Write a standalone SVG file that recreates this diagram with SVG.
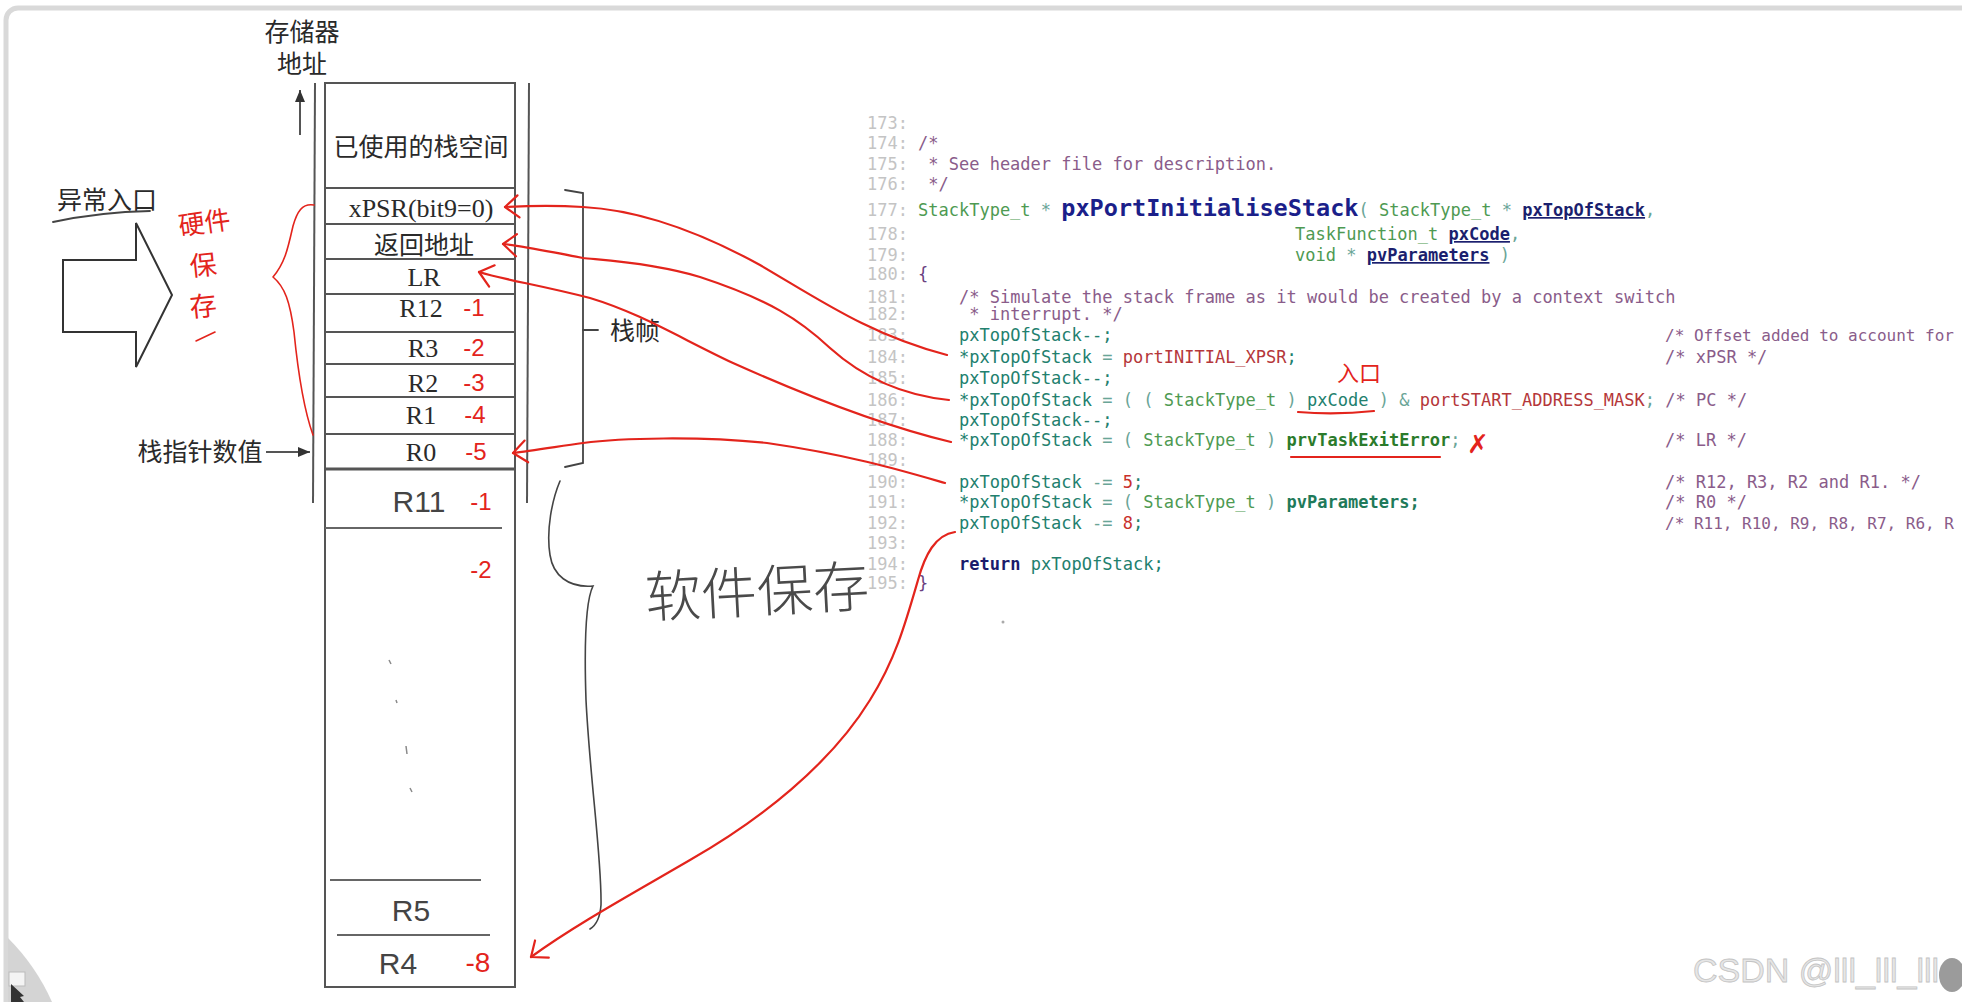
<svg xmlns="http://www.w3.org/2000/svg" width="1962" height="1002" viewBox="0 0 1962 1002">
<style>
.lbl{font-family:"Liberation Serif","Noto Sans CJK SC",serif;font-size:25px;fill:#2a2a2a;text-anchor:middle}
.lat{font-family:"Liberation Serif","Noto Sans CJK SC",serif;font-size:26px;fill:#2a2a2a;text-anchor:middle}
.hw{font-family:"Liberation Sans",sans-serif;font-size:30px;fill:#444;text-anchor:middle}
.rn{font-family:"Liberation Sans",sans-serif;font-size:24px;fill:#e3241c;text-anchor:middle}
.rcj{font-family:"Noto Sans CJK SC",sans-serif;fill:#e3241c;text-anchor:middle}
.box{fill:none;stroke:#555;stroke-width:2}
.ln{stroke:#555;stroke-width:2;fill:none}
.red{fill:none;stroke:#e3241c;stroke-width:2.2;stroke-linecap:round;stroke-linejoin:round}
.blk{fill:none;stroke:#444;stroke-width:1.8;stroke-linecap:round}
.code{font-family:"DejaVu Sans Mono","Liberation Mono",monospace;font-size:17px;white-space:pre}
.edge{font-size:16px}
.num{fill:#c4c4c4}
.cm{fill:#8a5c8a}
.ty{fill:#4e9a52}
.va{fill:#22806e}
.op{fill:#6aa597}
.ct{fill:#b5373a}
.nu{fill:#c8302b}
.fn{fill:#1b1f8a;font-weight:bold;font-size:23.5px}
.pa{fill:#1b1f6e;font-weight:bold;text-decoration:underline}
.kw{fill:#1b1b6b;font-weight:bold}
.br{fill:#6a4080}
.ex{fill:#2b7b2b;font-weight:bold}
.pv{fill:#1f7a5a;font-weight:bold}
</style>
<defs>
<marker id="rh" markerUnits="userSpaceOnUse" markerWidth="30" markerHeight="30" viewBox="-20 -15 25 30" refX="0" refY="0" orient="auto">
<path d="M -14 -11 L 0 0 L -13 11" fill="none" stroke="#e3241c" stroke-width="2.2" stroke-linecap="round" stroke-linejoin="round"/>
</marker>
<marker id="bh" markerUnits="userSpaceOnUse" markerWidth="16" markerHeight="16" viewBox="-12 -8 14 16" refX="0" refY="0" orient="auto">
<path d="M -12 -5 L 0 0 L -12 5 Z" fill="#333"/>
</marker>
</defs>
<rect x="0" y="0" width="1962" height="1002" fill="#ffffff"/>
<rect x="6" y="8" width="2000" height="1060" rx="12" fill="none" stroke="#d9d9d9" stroke-width="5"/>
<path d="M 8 938 Q 36 966 52 1002 L 8 1002 Z" fill="#d4d4d4"/>
<rect x="9" y="972" width="16" height="14" fill="#f4f4f4" stroke="#bbb" stroke-width="1"/>
<path d="M 11 984 L 24 996 L 20 997 L 24 1002 L 11 1002 Z" fill="#333"/>

<g id="axis">
<text class="lbl" x="302" y="41">存储器</text>
<text class="lbl" x="302" y="73">地址</text>
<line x1="300" y1="135" x2="300" y2="90" class="ln" marker-end="url(#bh)"/>
<line x1="315" y1="83" x2="313" y2="503" class="ln"/>
<line x1="529" y1="83" x2="527" y2="503" class="ln"/>
</g>

<g id="stack">
<rect x="325" y="83" width="190" height="904" class="box"/>
<line x1="325" y1="188" x2="515" y2="188" class="ln"/>
<line x1="325" y1="224" x2="515" y2="224" class="ln"/>
<line x1="325" y1="259" x2="515" y2="259" class="ln"/>
<line x1="325" y1="294" x2="515" y2="294" class="ln"/>
<line x1="325" y1="332" x2="515" y2="332" class="ln"/>
<line x1="325" y1="364" x2="515" y2="364" class="ln"/>
<line x1="325" y1="397" x2="515" y2="397" class="ln"/>
<line x1="325" y1="434" x2="515" y2="434" class="ln"/>
<line x1="325" y1="469" x2="515" y2="469" stroke="#555" stroke-width="3"/>
<line x1="325" y1="528" x2="502" y2="528" stroke="#666" stroke-width="1.8"/>
<line x1="330" y1="880" x2="481" y2="880" stroke="#666" stroke-width="1.8"/>
<line x1="337" y1="935" x2="490" y2="935" stroke="#666" stroke-width="1.8"/>
<text class="lbl" x="421" y="156">已使用的栈空间</text>
<text class="lat" x="421" y="217">xPSR(bit9=0)</text>
<text class="lbl" x="424" y="254">返回地址</text>
<text class="lat" x="424" y="286">LR</text>
<text class="lat" x="421" y="317">R12</text>
<text class="lat" x="423" y="357">R3</text>
<text class="lat" x="423" y="392">R2</text>
<text class="lat" x="421" y="424">R1</text>
<text class="lat" x="421" y="461">R0</text>
<text class="rn" x="474" y="316">-1</text>
<text class="rn" x="474" y="356">-2</text>
<text class="rn" x="474" y="391">-3</text>
<text class="rn" x="475" y="423">-4</text>
<text class="rn" x="476" y="460">-5</text>
<text class="hw" x="419" y="512">R11</text>
<text class="rn" x="481" y="510">-1</text>
<text class="rn" x="481" y="578">-2</text>
<text class="hw" x="411" y="921">R5</text>
<text class="hw" x="398" y="974">R4</text>
<text class="rn" x="478" y="972" style="font-size:28px">-8</text>
<path d="M 389 660 L 391 664 M 396 700 L 397 703 M 406 746 L 407 754 M 410 788 L 412 792" stroke="#8a8a8a" stroke-width="1.5" fill="none"/>
</g>

<g id="exception">
<text class="lbl" x="107" y="209">异常入口</text>
<path d="M 53 222 Q 100 212 150 211" class="blk"/>
<polygon points="63,260 136,260 136,223 172,295 136,367 136,332 63,332" fill="#fff" stroke="#333" stroke-width="2"/>
</g>

<g id="sp">
<text class="lbl" x="200" y="461">栈指针数值</text>
<line x1="266" y1="452" x2="310" y2="452" class="ln" marker-end="url(#bh)"/>
</g>

<g id="hw-save">
<text class="rcj" x="204" y="232" style="font-size:26px" transform="rotate(-8 204 220)">硬件</text>
<text class="rcj" x="203" y="275" style="font-size:27px" transform="rotate(-6 203 264)">保</text>
<text class="rcj" x="203" y="316" style="font-size:27px" transform="rotate(-6 203 305)">存</text>
<path d="M 196 341 L 215 332" class="red" style="stroke-width:1.6"/>
<path d="M 314 205 C 302 203 297 212 293 226 C 288 248 285 263 273 277 C 285 287 290 302 294 332 C 298 372 304 410 313 435" class="red" style="stroke-width:1.6"/>
</g>

<g id="frame">
<path d="M 565 190 L 583 193 L 583 463 L 565 467" class="blk"/>
<path d="M 583 330 L 598 330" class="blk"/>
<text class="lbl" x="635" y="340">栈帧</text>
</g>

<g id="sw-save">
<path d="M 560 481 C 552 500 546 530 550 555 C 553 575 568 588 593 586 C 586 600 584 640 586 700 C 590 780 602 860 601 905 C 600 918 595 926 590 929" class="blk" style="stroke-width:1.6"/>
<text x="757" y="612" style="font-family:'Noto Sans CJK SC',sans-serif;font-size:56px;font-weight:300;fill:#4a4a4a;text-anchor:middle" transform="rotate(-3 757 592)">软件保存</text>
</g>

<g id="code" xml:space="preserve">
<text class="code num" x="867" y="129">173:</text>
<text class="code num" x="867" y="149">174:</text>
<text class="code num" x="867" y="170">175:</text>
<text class="code num" x="867" y="190">176:</text>
<text class="code num" x="867" y="216">177:</text>
<text class="code num" x="867" y="240">178:</text>
<text class="code num" x="867" y="261">179:</text>
<text class="code num" x="867" y="280">180:</text>
<text class="code num" x="867" y="303">181:</text>
<text class="code num" x="867" y="320">182:</text>
<text class="code num" x="867" y="341">183:</text>
<text class="code num" x="867" y="363">184:</text>
<text class="code num" x="867" y="384">185:</text>
<text class="code num" x="867" y="406">186:</text>
<text class="code num" x="867" y="426">187:</text>
<text class="code num" x="867" y="446">188:</text>
<text class="code num" x="867" y="466">189:</text>
<text class="code num" x="867" y="488">190:</text>
<text class="code num" x="867" y="508">191:</text>
<text class="code num" x="867" y="529">192:</text>
<text class="code num" x="867" y="549">193:</text>
<text class="code num" x="867" y="570">194:</text>
<text class="code num" x="867" y="589">195:</text>
<text class="code cm" x="918" y="149">/*</text>
<text class="code cm" x="918" y="170"> * See header file for description.</text>
<text class="code cm" x="918" y="190"> */</text>
<text class="code" x="918" y="216"><tspan class="ty">StackType_t</tspan><tspan class="op"> * </tspan><tspan class="fn">pxPortInitialiseStack</tspan><tspan class="op">( </tspan><tspan class="ty">StackType_t</tspan><tspan class="op"> * </tspan><tspan class="pa">pxTopOfStack</tspan><tspan class="op">,</tspan></text>
<text class="code" x="1295" y="240"><tspan class="ty">TaskFunction_t </tspan><tspan class="pa">pxCode</tspan><tspan class="op">,</tspan></text>
<text class="code" x="1295" y="261"><tspan class="ty">void</tspan><tspan class="op"> * </tspan><tspan class="pa">pvParameters</tspan><tspan class="op"> )</tspan></text>
<text class="code br" x="918" y="280">{</text>
<text class="code cm" x="959" y="303">/* Simulate the stack frame as it would be created by a context switch</text>
<text class="code cm" x="959" y="320"> * interrupt. */</text>
<text class="code va" x="959" y="341">pxTopOfStack--;</text>
<text class="code cm edge" x="1665" y="341">/* Offset added to account for</text>
<text class="code" x="959" y="363"><tspan class="va">*pxTopOfStack</tspan><tspan class="op"> = </tspan><tspan class="ct">portINITIAL_XPSR</tspan><tspan class="va">;</tspan></text>
<text class="code cm" x="1665" y="363">/* xPSR */</text>
<text class="code va" x="959" y="384">pxTopOfStack--;</text>
<text class="code" x="959" y="406"><tspan class="va">*pxTopOfStack</tspan><tspan class="op"> = ( ( </tspan><tspan class="ty">StackType_t</tspan><tspan class="op"> ) </tspan><tspan class="va">pxCode</tspan><tspan class="op"> ) &amp; </tspan><tspan class="ct">portSTART_ADDRESS_MASK</tspan><tspan class="op">; </tspan><tspan class="cm">/* PC */</tspan></text>
<text class="code va" x="959" y="426">pxTopOfStack--;</text>
<text class="code" x="959" y="446"><tspan class="va">*pxTopOfStack</tspan><tspan class="op"> = ( </tspan><tspan class="ty">StackType_t</tspan><tspan class="op"> ) </tspan><tspan class="ex">prvTaskExitError</tspan><tspan class="op">;</tspan></text>
<text class="code cm" x="1665" y="446">/* LR */</text>
<text class="code" x="959" y="488"><tspan class="va">pxTopOfStack</tspan><tspan class="op"> -= </tspan><tspan class="nu">5</tspan><tspan class="va">;</tspan></text>
<text class="code cm" x="1665" y="488">/* R12, R3, R2 and R1. */</text>
<text class="code" x="959" y="508"><tspan class="va">*pxTopOfStack</tspan><tspan class="op"> = ( </tspan><tspan class="ty">StackType_t</tspan><tspan class="op"> ) </tspan><tspan class="pv">pvParameters;</tspan></text>
<text class="code cm" x="1665" y="508">/* R0 */</text>
<text class="code" x="959" y="529"><tspan class="va">pxTopOfStack</tspan><tspan class="op"> -= </tspan><tspan class="nu">8</tspan><tspan class="va">;</tspan></text>
<text class="code cm edge" x="1665" y="529">/* R11, R10, R9, R8, R7, R6, R</text>
<text class="code" x="959" y="570"><tspan class="kw">return</tspan><tspan class="va"> pxTopOfStack;</tspan></text>
<text class="code br" x="918" y="589">}</text>
</g>

<g id="notes">
<text class="rcj" x="1359" y="381" style="font-size:22px">入口</text>
<path d="M 1298 412 Q 1336 415 1374 411" class="red"/>
<path d="M 1291 457 L 1440 457" class="red"/>
<text x="1478" y="453" style="font-family:'DejaVu Sans',sans-serif;font-size:26px;fill:#e3241c;text-anchor:middle">✗</text>
<circle cx="1003" cy="622" r="1.5" fill="#aaa"/>
</g>

<g id="connectors">
<path d="M 947 355 C 870 335 820 300 760 265 C 700 232 640 210 583 207 C 550 205 525 206 505 207" class="red" marker-end="url(#rh)"/>
<path d="M 949 400 C 900 395 860 375 830 348 C 800 320 770 300 700 277 C 650 262 600 260 583 258 C 550 252 525 246 503 244" class="red" marker-end="url(#rh)"/>
<path d="M 951 442 C 880 425 800 393 733 363 C 680 338 640 313 590 298 C 540 285 505 280 479 272" class="red" marker-end="url(#rh)"/>
<path d="M 945 483 C 900 470 850 455 767 443 C 700 436 620 438 583 443 C 555 447 530 451 513 453" class="red" marker-end="url(#rh)"/>
<path d="M 955 532 C 935 535 925 555 918 580 C 905 625 895 660 870 700 C 830 765 760 820 690 860 C 630 895 575 925 531 957" class="red" marker-end="url(#rh)"/>
</g>

<g id="watermark">
<text x="1693" y="982" style="font-family:'Liberation Sans',sans-serif;font-size:34px;fill:#e6e6e6;stroke:#c4c4c4;stroke-width:0.8">CSDN @lll_lll_lll</text>
<ellipse cx="1952" cy="975" rx="13" ry="17" fill="#8a8a8a" opacity="0.85"/>
</g>
</svg>
